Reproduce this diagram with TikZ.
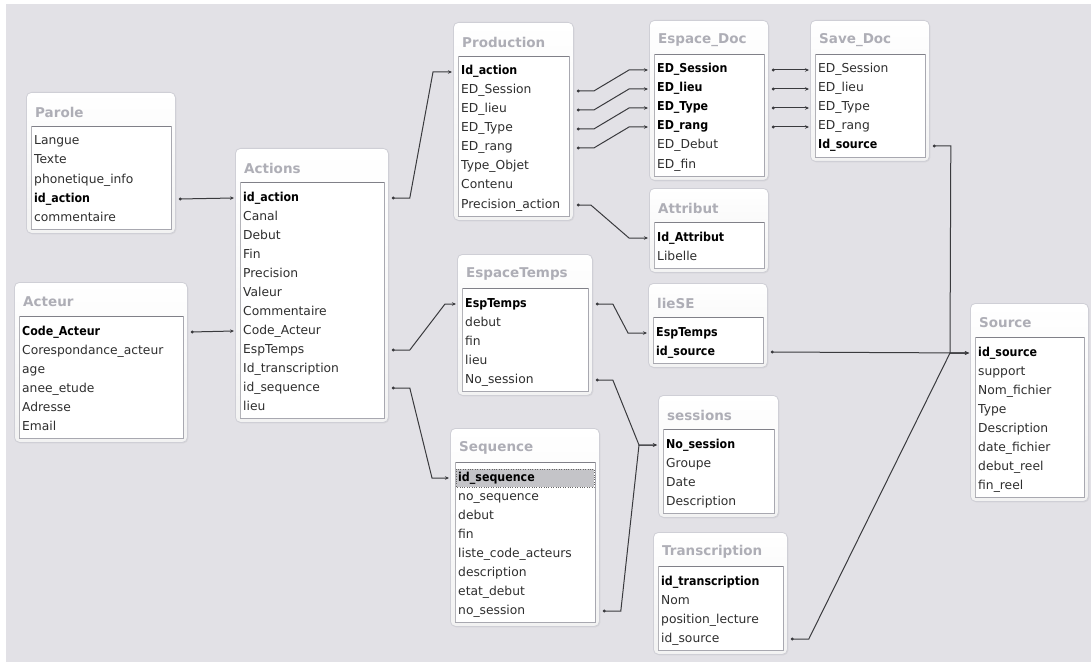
\documentclass[tikz,border=0pt]{standalone}
\usepackage{fontspec}
\setmainfont{DejaVu Sans}
\newfontfamily\keyfont{DejaVu Sans Condensed}
\usetikzlibrary{calc,arrows.meta,shadows}
\definecolor{canvas}{HTML}{E2E1E6}
\definecolor{frame}{HTML}{CFCFD6}
\definecolor{titlegray}{HTML}{AEAEB6}
\definecolor{listborder}{HTML}{A8A8B0}
\definecolor{listtop}{HTML}{808088}
\definecolor{fieldtxt}{HTML}{2E2E2E}
\definecolor{linkc}{HTML}{3A3A3E}
\definecolor{hlgray}{HTML}{C4C4C8}
\tikzset{
  tabbox/.style={draw=frame, rounded corners=5pt, top color=white, bottom color=black!5,
    line width=0.8pt, drop shadow={opacity=0.12,shadow xshift=1pt,shadow yshift=-1pt}, inner sep=0},
  titletext/.style={font=\fontsize{13.5}{15}\selectfont\bfseries, text=titlegray, anchor=west, inner sep=0},
  listbox/.style={fill=white, draw=listborder, line width=0.7pt},
  nf/.style={font=\fontsize{12.3}{14}\selectfont, text=fieldtxt, anchor=west, inner sep=0,
    text height=9pt, text depth=3pt},
  kf/.style={nf, font=\fontsize{12.3}{14}\selectfont\keyfont\bfseries, text=black},
  rel/.style={draw=linkc, line width=1pt, {Circle[length=2.8pt]}-{Stealth[length=4pt,width=3.5pt]}},
}
% #1 id, #2 x, #3 y, #4 width, #5 rows count, #6 title, #7 rows, #8 extra
\newcommand\dbtable[8]{%
  \node[tabbox, anchor=north west, minimum width=#4, minimum height={19*#5+46}] (#1) at (#2,#3) {};
  \node[titletext] at ({#2+9},{#3+20}) {#6};
  \draw[listbox] ({#2+5},{#3+34}) rectangle ({#2+#4-4},{#3+19*#5+42});
  \draw[listtop, line width=1.2pt] ({#2+5},{#3+34.5}) -- ({#2+#4-4},{#3+34.5});
  \draw[listtop!60, line width=0.8pt] ({#2+5.4},{#3+34}) -- ({#2+5.4},{#3+19*#5+42});
  #8
  \foreach \s/\f [count=\i] in {#7} {\node[\s] (#1-\i) at ({#2+8},{#3+31+19*\i}) {\f};}
}
\begin{document}
\begin{tikzpicture}[x=1pt,y=-1pt]
\useasboundingbox (0,0) rectangle (1091,663);
\fill[white] (0,0) rectangle (1091,663);
\fill[canvas] (6,4) rectangle (1091,662);

\dbtable{par}{26}{92}{149}{5}{Parole}{nf/Langue, nf/Texte, nf/phonetique\_info, kf/id\_action, nf/commentaire}{}
\dbtable{act}{235}{148}{153}{12}{Actions}{kf/id\_action, nf/Canal, nf/Debut, nf/Fin, nf/Precision, nf/Valeur, nf/Commentaire, nf/Code\_Acteur, nf/EspTemps, nf/Id\_transcription, nf/id\_sequence, nf/lieu}{}
\dbtable{acr}{14}{282}{173}{6}{Acteur}{kf/Code\_Acteur, nf/Corespondance\_acteur, nf/age, nf/anee\_etude, nf/Adresse, nf/Email}{}
\dbtable{pro}{453}{22}{120}{8}{Production}{kf/Id\_action, nf/ED\_Session, nf/ED\_lieu, nf/ED\_Type, nf/ED\_rang, nf/Type\_Objet, nf/Contenu, nf/Precision\_action}{}
\dbtable{esp}{649}{20}{119}{6}{Espace\_Doc}{kf/ED\_Session, kf/ED\_lieu, kf/ED\_Type, kf/ED\_rang, nf/ED\_Debut, nf/ED\_fin}{}
\dbtable{att}{649}{188}{119}{2}{Attribut}{kf/Id\_Attribut, nf/Libelle}{}
\dbtable{sav}{810}{20}{119}{5}{Save\_Doc}{nf/ED\_Session, nf/ED\_lieu, nf/ED\_Type, nf/ED\_rang, kf/Id\_source}{}
\dbtable{ets}{457}{254}{135}{5}{EspaceTemps}{kf/EspTemps, nf/debut, nf/fin, nf/lieu, nf/No\_session}{}
\dbtable{lie}{648}{283}{119}{2}{lieSE}{kf/EspTemps, kf/id\_source}{}
\dbtable{seq}{450}{428}{149}{8}{Sequence}{kf/id\_sequence, nf/no\_sequence, nf/debut, nf/fin, nf/liste\_code\_acteurs, nf/description, nf/etat\_debut, nf/no\_session}{\draw[fill=hlgray, draw=black!60, dotted] (456,469) rectangle (594,487);}
\dbtable{ses}{658}{395}{120}{4}{sessions}{kf/No\_session, nf/Groupe, nf/Date, nf/Description}{}
\dbtable{tra}{653}{532}{134}{4}{Transcription}{kf/id\_transcription, nf/Nom, nf/position\_lecture, nf/id\_source}{}
\dbtable{src}{970}{303}{118}{8}{Source}{kf/id\_source, nf/support, nf/Nom\_fichier, nf/Type, nf/Description, nf/date\_fichier, nf/debut\_reel, nf/fin\_reel}{}

% connectors
\draw[rel] ($(par.east|-par-4)+(3,0)$) -- ($(act.west|-act-1)+(-1,0)$);
\draw[rel] ($(acr.east|-acr-1)+(3,0)$) -- ($(act.west|-act-8)+(-1,0)$);
\draw[rel] ($(act.east|-act-1)+(3,0)$) -- ++(18,0) -- ($(pro.west|-pro-1)+(-20,0)$) -- ($(pro.west|-pro-1)+(-1,0)$);
\foreach \a/\b in {2/1,3/2,4/3,5/4}
  \draw[rel] ($(pro.east|-pro-\a)+(3,0)$) -- ++(17,0) -- ($(esp.west|-esp-\b)+(-20,0)$) -- ($(esp.west|-esp-\b)+(-1,0)$);
\foreach \a in {1,...,4}
  \draw[rel] ($(esp.east|-esp-\a)+(3,0)$) -- ($(sav.west|-sav-\a)+(-1,0)$);
\draw[rel] ($(pro.east|-pro-8)+(3,0)$) -- ++(14,0) -- ($(att.west|-att-1)+(-20,0)$) -- ($(att.west|-att-1)+(-1,0)$);

\coordinate (jsrc) at ($(src.west|-src-1)+(-20,0)$);
\draw[rel] ($(sav.east|-sav-5)+(3,0)$) -- ++(18,0) -- (jsrc) -- ($(src.west|-src-1)+(-1,0)$);
\draw[rel] ($(lie.east|-lie-2)+(3,0)$) -- ($(src.west|-src-1)+(-1,0)$);
\draw[rel] ($(tra.east|-tra-4)+(3,0)$) -- ++(18,0) -- (jsrc) -- ($(src.west|-src-1)+(-1,0)$);

\draw[rel] ($(act.east|-act-9)+(3,0)$) -- ++(18,0) -- ($(ets.west|-ets-1)+(-12,0)$) -- ($(ets.west|-ets-1)+(-1,0)$);
\draw[rel] ($(act.east|-act-11)+(3,0)$) -- ++(18,0) -- ($(seq.west|-seq-1)+(-18,0)$) -- ($(seq.west|-seq-1)+(-1,0)$);
\draw[rel] ($(ets.east|-ets-1)+(3,0)$) -- ++(17,0) -- ($(lie.west|-lie-1)+(-20,0)$) -- ($(lie.west|-lie-1)+(-1,0)$);

\coordinate (jses) at ($(ses.west|-ses-1)+(-19,0)$);
\draw[rel] ($(ets.east|-ets-5)+(3,0)$) -- ++(17,0) -- (jses) -- ($(ses.west|-ses-1)+(-1,0)$);
\draw[rel] ($(seq.east|-seq-8)+(3,0)$) -- ++(18,0) -- (jses) -- ($(ses.west|-ses-1)+(-1,0)$);
\end{tikzpicture}
\end{document}
